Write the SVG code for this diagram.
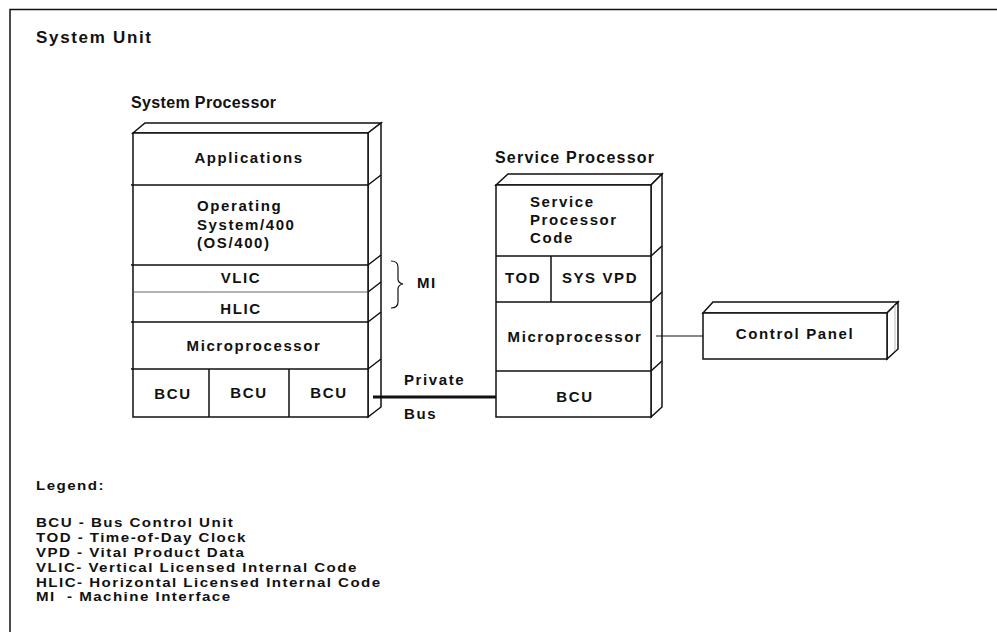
<svg xmlns="http://www.w3.org/2000/svg" width="997" height="632" viewBox="0 0 997 632">
<style>
text{font-family:"Liberation Sans",Arial,sans-serif;font-weight:bold;font-size:15px;letter-spacing:1.6px;fill:#111}
.h{font-size:16px;letter-spacing:1px}
.h1{font-size:17px}
.c{text-anchor:middle}
.lg text{font-size:13.5px;letter-spacing:1.3px}
.ln{fill:none;stroke:#111;stroke-width:1.5}
.face{fill:#fff;stroke:#111;stroke-width:1.5;stroke-linejoin:miter}
.gray{stroke:#999;stroke-width:1.5;fill:none}
.bus{stroke:#111;stroke-width:3;fill:none}
.thin{stroke:#111;stroke-width:1.2;fill:none}
</style>
<rect width="997" height="632" fill="#fff"/>
<path class="ln" d="M10,632 V9.5 H997"/>
<text class="h h1" x="36" y="43" textLength="116" lengthAdjust="spacing">System Unit</text>

<g id="system-processor">
<text class="h" x="131" y="108" textLength="146" lengthAdjust="spacing">System Processor</text>
<polygon class="face" points="133,133 145,123 381,123 368,133"/>
<polygon class="face" points="368,133 381,123 381,407 368,417"/>
<rect class="face" x="133" y="133" width="235" height="284"/>
<path class="ln" d="M131,185 H368 M131,265 H368 M131,322 H368 M131,369 H368 M209,369 V417 M289,369 V417"/>
<path class="gray" d="M134,292 H367"/>
<path class="ln" d="M368,185 L381,175 M368,265 L381,255 M368,292 L381,282 M368,322 L381,312 M368,369 L381,359"/>
<text class="c" x="249" y="163">Applications</text>
<text x="197" y="211">Operating</text>
<text x="197" y="230">System/400</text>
<text x="197" y="248">(OS/400)</text>
<text class="c" x="241" y="283">VLIC</text>
<text class="c" x="241" y="314">HLIC</text>
<text class="c" x="254" y="351">Microprocessor</text>
<text class="c" x="173" y="399">BCU</text>
<text class="c" x="249" y="398">BCU</text>
<text class="c" x="329" y="398">BCU</text>
</g>

<g id="mi-brace">
<path class="thin" d="M391,261 Q398,261 398,267 V279 Q398,283 403,284 Q398,285 398,289 V302 Q398,308 391,308"/>
<text x="417" y="288">MI</text>
</g>

<g id="service-processor">
<text class="h" x="495" y="163" textLength="160" lengthAdjust="spacing">Service Processor</text>
<polygon class="face" points="496,185 508,174 662,174 651,185"/>
<polygon class="face" points="651,185 662,174 662,407 651,417"/>
<rect class="face" x="496" y="185" width="155" height="232"/>
<path class="ln" d="M496,256 H651 M496,302 H651 M496,371 H651 M551,256 V302"/>
<path class="ln" d="M651,256 L662,246 M651,302 L662,292 M651,371 L662,361"/>
<text x="530" y="207">Service</text>
<text x="530" y="225">Processor</text>
<text x="530" y="243">Code</text>
<text class="c" x="523" y="283">TOD</text>
<text class="c" x="600" y="283">SYS VPD</text>
<text class="c" x="575" y="342">Microprocessor</text>
<text class="c" x="575" y="402">BCU</text>
</g>

<g id="control-panel">
<polygon class="face" points="703,313 713,302 898,302 887,313"/>
<polygon class="face" points="887,313 898,302 898,349 887,359"/>
<rect class="face" x="703" y="313" width="184" height="46"/>
<path d="M895,305 V351" stroke="#bbb" stroke-width="1" fill="none"/>
<text class="c" x="795" y="339">Control Panel</text>
</g>

<g id="connectors">
<path class="bus" d="M373,397 H496"/>
<path class="thin" d="M656,336 H703"/>
<text x="404" y="385">Private</text>
<text x="404" y="419">Bus</text>
</g>

<g id="legend" class="lg" transform="translate(36,0) scale(1.12,1)">
<text x="0" y="490">Legend:</text>
<text x="0" y="527">BCU - Bus Control Unit</text>
<text x="0" y="542">TOD - Time-of-Day Clock</text>
<text x="0" y="557">VPD - Vital Product Data</text>
<text x="0" y="572">VLIC- Vertical Licensed Internal Code</text>
<text x="0" y="587">HLIC- Horizontal Licensed Internal Code</text>
<text x="0" y="601" xml:space="preserve" style="white-space:pre">MI  - Machine Interface</text>
</g>
</svg>
